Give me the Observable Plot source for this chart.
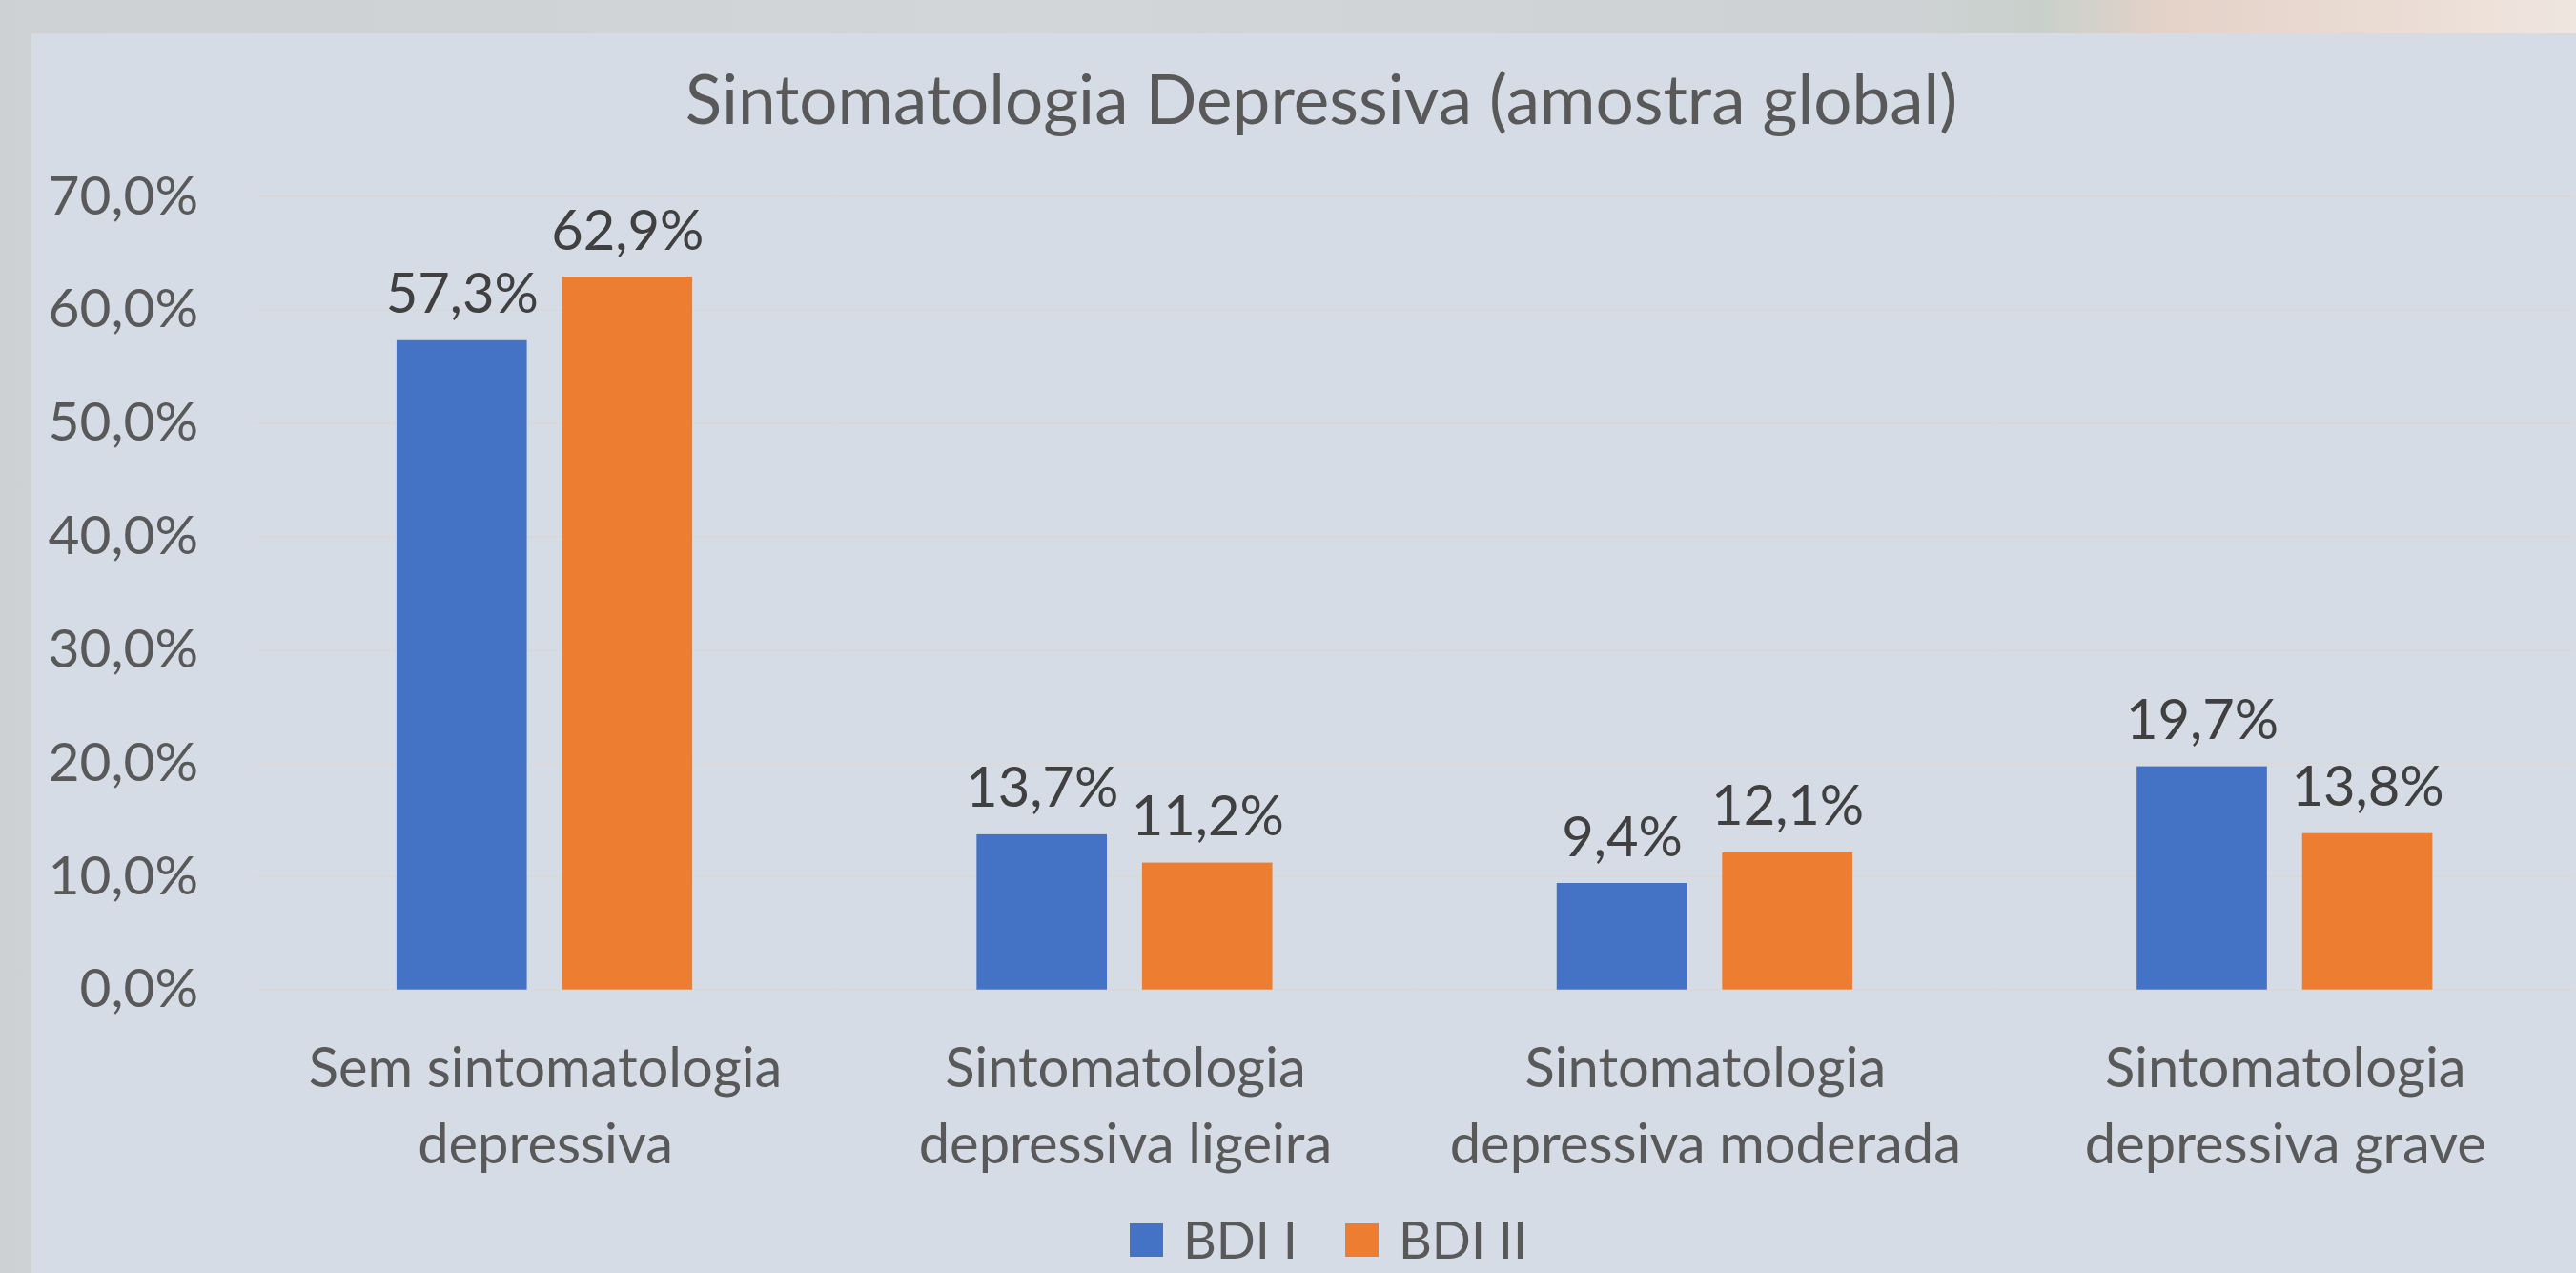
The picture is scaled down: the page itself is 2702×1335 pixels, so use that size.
<!DOCTYPE html>
<html><head><meta charset="utf-8">
<script src="https://cdn.jsdelivr.net/npm/d3@7"></script>
<script src="https://cdn.jsdelivr.net/npm/@observablehq/plot@0.6"></script>
<style>
html,body{margin:0;padding:0;width:2702px;height:1335px;overflow:hidden;}
body{position:relative;font-family:Lato,sans-serif;
  background:linear-gradient(to right,#cdd1d3 0%,#d3d6d8 40%,#cfd2d4 74%,#c8d0cc 79%,#e4d2c8 84%,#ecdfd7 95%,#efe6e0 100%);}
#panel{position:absolute;left:33px;top:35px;width:2720px;height:1350px;background:#d6dce5;}
#title{position:absolute;left:0;width:2772px;top:67px;text-align:center;font-size:71px;line-height:1;color:#595959;white-space:nowrap;}
#chart{position:absolute;left:0;top:150px;}
#legend{position:absolute;left:0;width:2787px;top:1273px;height:54px;display:flex;justify-content:center;align-items:center;font-size:54px;line-height:1;color:#595959;}
#legend .item{display:flex;align-items:center;margin:0 25px;}
#legend .sw{width:35px;height:35px;margin-right:21px;}
</style></head>
<body>
<div id="panel"></div>
<div id="title">Sintomatologia Depressiva (amostra global)</div>
<div id="chart"></div>
<div id="legend"></div>
<script>
const categories = ["Sem sintomatologia\ndepressiva", "Sintomatologia\ndepressiva ligeira", "Sintomatologia\ndepressiva moderada", "Sintomatologia\ndepressiva grave"];
const series = ["BDI I", "BDI II"];
const bdi1 = [57.3, 13.7, 9.4, 19.7];
const bdi2 = [62.9, 11.2, 12.1, 13.8];
const colors = ["#4472c4", "#ed7d31"];
const yTicks = [0, 10, 20, 30, 40, 50, 60, 70];

const fmt = v => v.toFixed(1).replace(".", ",") + "%";
const table = [];
categories.forEach((c, i) => {
  table.push({category: c, series: series[0], value: bdi1[i]});
  table.push({category: c, series: series[1], value: bdi2[i]});
});

const chart = Plot.plot({
  width: 2709,
  height: 1100,
  marginLeft: 267,
  marginRight: 0,
  marginTop: 56,
  marginBottom: 210,
  style: {background: "none", fontFamily: "Lato, sans-serif", color: "#595959", overflow: "visible"},
  fx: {domain: categories, padding: 0, axis: null},
  x: {domain: series, paddingInner: 0.2126, paddingOuter: 0.859, axis: null},
  y: {domain: [0, 70], axis: null},
  color: {domain: series, range: colors},
  marks: [
    Plot.gridY(yTicks, {stroke: "#d9d9d9", strokeOpacity: 1, strokeWidth: 2}),
    Plot.axisY({ticks: yTicks, tickFormat: fmt, tickSize: 0, tickPadding: 60, fontSize: 57, fill: "#595959", label: null}),
    Plot.barY(table, {fx: "category", x: "series", y: "value", fill: "series"}),
    Plot.text(table, {fx: "category", x: "series", y: "value", text: d => fmt(d.value), lineAnchor: "bottom", dy: -29, fontSize: 58, fill: "#404040"}),
    Plot.text(categories, {fx: d => d, text: d => d, frameAnchor: "bottom", lineAnchor: "bottom", lineHeight: 1.386, dy: 182, fontSize: 58, fill: "#595959"})
  ]
});
document.getElementById("chart").appendChild(chart);

const legend = document.getElementById("legend");
series.forEach((s, i) => {
  const item = document.createElement("div");
  item.className = "item";
  const sw = document.createElement("div");
  sw.className = "sw";
  sw.style.background = colors[i];
  const t = document.createElement("span");
  t.textContent = s;
  item.appendChild(sw); item.appendChild(t);
  legend.appendChild(item);
});
</script>
</body></html>
